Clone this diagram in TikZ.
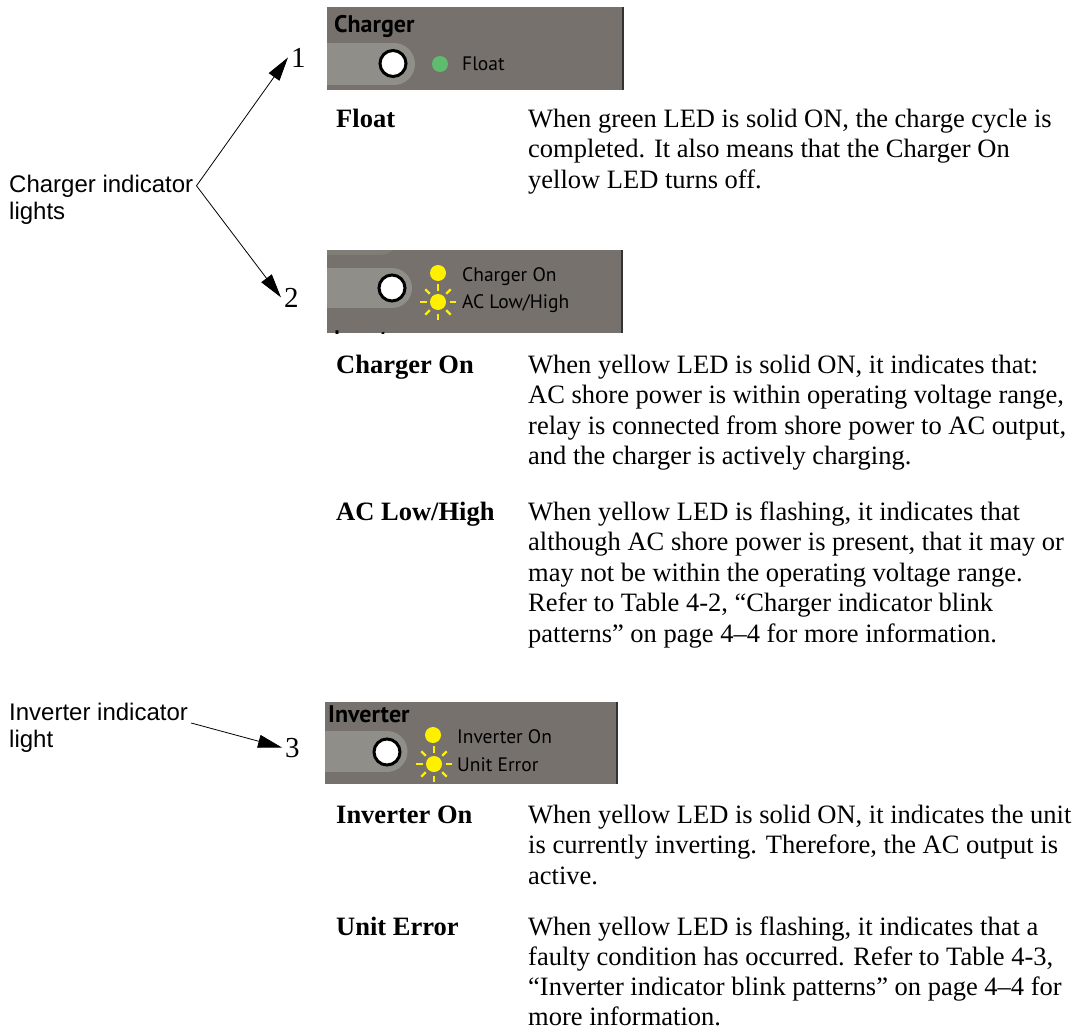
\documentclass[tikz,border=0pt]{standalone}
\usepackage{fontspec}
\setmainfont{Liberation Serif}
\newfontfamily\lsans{Liberation Sans}
\newfontfamily\panelfont{PT Sans}
\usetikzlibrary{arrows.meta,calc}
\definecolor{panelgrey}{RGB}{118,113,108}
\definecolor{pillgrey}{RGB}{143,142,136}
\definecolor{ledgreen}{RGB}{95,187,110}
\definecolor{ledyellow}{RGB}{255,240,0}
\begin{document}
\begin{tikzpicture}[x=1pt,y=-1pt,
 body/.style={anchor=base west, inner sep=0pt, font=\fontsize{26.5}{30}\selectfont},
 term/.style={anchor=base west, inner sep=0pt, font=\fontsize{26.5}{30}\selectfont\bfseries},
 sideword/.style={anchor=base west, inner sep=0pt, font=\lsans\fontsize{24}{28}\selectfont},
 num/.style={anchor=base west, inner xsep=3pt, inner ysep=0pt, font=\fontsize{29}{30}\selectfont},
 ptext/.style={anchor=base west, inner sep=0pt, font=\panelfont\fontsize{19.5}{20}\selectfont, text=black},
 phead/.style={anchor=base west, inner sep=0pt, font=\panelfont\bfseries\fontsize{24}{26}\selectfont, text=black},
 arr/.style={-{Triangle[length=24pt,width=13pt]}, line width=0.8pt},
 panel/.style={fill=panelgrey},
 pill/.style={fill=pillgrey},
 button/.style={draw=black, line width=3pt, fill=white},
 ray/.style={draw=ledyellow, line width=2.4pt},
 rightedge/.style={draw=black!80, line width=1.2pt},
]
\useasboundingbox (0,0) rectangle (1077,1036);
\fill[white] (0,0) rectangle (1077,1036);

% ---------- panel 1 : Charger / Float
\begin{scope}
\clip (327,7) rectangle (623,90);
\fill[panel] (327,7) rectangle (623,90);
\fill[pill] (327,43) rectangle (394,85);
\fill[pill] (394,64) circle[radius=21pt];
\draw[button] (393,63.5) circle[radius=13pt];
\fill[ledgreen] (440,64) circle[radius=8pt];
\end{scope}
\draw[rightedge] (623,7) -- (623,90);
\node[phead] (h1) at (334,32) {Charger};
\node[ptext] (pfloat) at (462,70.5) {Float};

% ---------- panel 2 : Charger On / AC Low/High
\begin{scope}
\clip (327,250) rectangle (622,333);
\fill[panel] (327,250) rectangle (622,333);
\fill[pillgrey!40!panelgrey] (327,213) rectangle (380,255);
\fill[pillgrey!40!panelgrey] (380,234) circle[radius=21pt];
\fill[pill] (327,268) rectangle (392,308);
\fill[pill] (392,288) circle[radius=20pt];
\draw[button] (392,288) circle[radius=13pt];
\fill[ledyellow] (438,273) circle[radius=8pt];
\fill[ledyellow] (438,302) circle[radius=8pt];
\foreach \a in {0,45,...,315}
  \draw[ray] ($(438,302)+(\a:11.5pt)$) -- ($(438,302)+(\a:18pt)$);
\node[phead, font=\panelfont\bfseries\fontsize{21}{22}\selectfont, text depth=0pt] (h2) at (334,345) {Inverter};
\end{scope}
\draw[rightedge] (622,250) -- (622,333);
\node[ptext] (pchon) at (462,281.5) {Charger On};
\node[ptext] (paclh) at (462,308.5) {AC Low/High};

% ---------- panel 3 : Inverter
\begin{scope}
\clip (325,702) rectangle (617,784);
\fill[panel] (325,702) rectangle (617,784);
\fill[pill] (325,731) rectangle (387,772);
\fill[pill] (387,751.5) circle[radius=20.5pt];
\draw[button] (387,752) circle[radius=13pt];
\fill[ledyellow] (433,735) circle[radius=8pt];
\fill[ledyellow] (434,764) circle[radius=8pt];
\foreach \a in {0,45,...,315}
  \draw[ray] ($(434,764)+(\a:11.5pt)$) -- ($(434,764)+(\a:18pt)$);
\end{scope}
\draw[rightedge] (617,702) -- (617,784);
\node[phead] (h3) at (328,722) {Inverter};
\node[ptext] (pinvon) at (457,743) {Inverter On};
\node[ptext] (punit) at (457,771) {Unit Error};

% ---------- callout labels and numbers
\node[sideword] (ci1) at (9,192) {Charger indicator};
\node[sideword] (ci2) at (9,219) {lights};
\node[sideword] (ii1) at (9,720) {Inverter indicator};
\node[sideword] (ii2) at (9,747) {light};
\node[num] (n1) at (288,67) {1};
\node[num] (n2) at (281,307) {2};
\node[num] (n3) at (282,757) {3};
\coordinate (c1) at ([xshift=3pt]ci1.east);
\coordinate (c2) at ([xshift=3pt,yshift=-3pt]ii1.base east);
\draw[arr] (c1) -- (n1.west);
\draw[arr] (c1) -- (n2.west);
\draw[arr] (c2) -- (n3.west);

% ---------- descriptions
\node[term] (tfloat) at (336,127) {Float};
\node[body] (f1) at (528,127) {When green LED is solid ON, the charge cycle is};
\node[body] (f2) at (528,157.5) {completed. It also means that the Charger On};
\node[body] (f3) at (528,188) {yellow LED turns off.};

\node[term] (tchon) at (336,373) {Charger On};
\node[body] (c1a) at (528,373) {When yellow LED is solid ON, it indicates that:};
\node[body] (c1b) at (528,403.5) {AC shore power is within operating voltage range,};
\node[body] (c1c) at (528,434) {relay is connected from shore power to AC output,};
\node[body] (c1d) at (528,464.5) {and the charger is actively charging.};

\node[term] (taclh) at (336,520) {AC Low/High};
\node[body] (a1) at (528,520) {When yellow LED is flashing, it indicates that};
\node[body] (a2) at (528,550.5) {although AC shore power is present, that it may or};
\node[body] (a3) at (528,581) {may not be within the operating voltage range.};
\node[body] (a4) at (528,611.5) {Refer to Table 4-2, “Charger indicator blink};
\node[body] (a5) at (528,642) {patterns” on page 4–4 for more information.};

\node[term] (tinvon) at (336,823) {Inverter On};
\node[body] (i1) at (528,823) {When yellow LED is solid ON, it indicates the unit};
\node[body] (i2) at (528,853.5) {is currently inverting. Therefore, the AC output is};
\node[body] (i3) at (528,884) {active.};

\node[term] (tunit) at (336,935) {Unit Error};
\node[body] (u1) at (528,935) {When yellow LED is flashing, it indicates that a};
\node[body] (u2) at (528,965) {faulty condition has occurred. Refer to Table 4-3,};
\node[body] (u3) at (528,995) {“Inverter indicator blink patterns” on page 4–4 for};
\node[body] (u4) at (528,1025) {more information.};
\end{tikzpicture}
\end{document}
